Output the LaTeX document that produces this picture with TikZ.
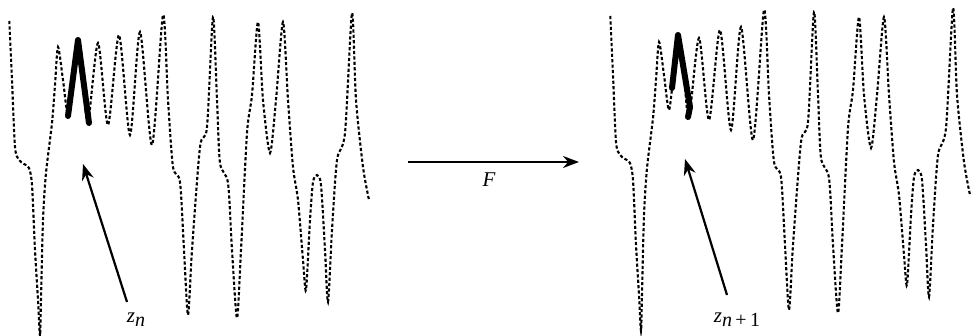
\documentclass[tikz,border=0pt]{standalone}
\usepackage{fontspec}
\setmainfont{Liberation Serif}
\usetikzlibrary{arrows.meta}
\tikzset{
  wave/.style={line width=2.1pt, dash pattern=on 3.2pt off 2.2pt},
  thickseg/.style={line width=6pt, line join=round, line cap=round},
  arr/.style={line width=2.2pt, -{Stealth[length=16pt,width=12pt]}},
  lbl/.style={inner sep=0pt, font=\fontsize{21}{23}\selectfont}
}
\newcommand\subsc[1]{\raisebox{-4pt}{\fontsize{20}{20}\selectfont #1}}
\newcommand\wavecurve{%
\draw[wave] plot[smooth,tension=0.45] coordinates {
(9.3,21) (12,80) (15,147) (19,160) (24,164) (29,168) (32,185) (35,250) (38,300) (40,336)
(41,300) (43,220) (46,173) (52,123) (55,85) (58,47) (63,80) (68,115) (73,75) (78,40) (83,80) (88,123)
(98,43) (108,125) (119,35) (130,135) (140,32) (152,145) (163,15) (168,100) (173,167) (180,182)
(184,250) (188,315) (192,250) (200,147) (207,127) (213,17) (217,100) (220,163) (228,183)
(232,250) (237,318) (241,250) (247,133) (252,95) (258,22) (263,100) (270,153) (276,100)
(283,22) (288,100) (293,167) (298,200) (303,260) (306,290) (310,220) (313,182) (317,175)
(321,185) (325,250) (328,302) (332,230) (337,160) (345,133) (352,13) (356,100) (363,167) (369,200)};}
\begin{document}
\begin{tikzpicture}[x=1pt,y=-1pt]
\useasboundingbox (0,0) rectangle (971,336);
% left graph
\wavecurve
\draw[thickseg] (68,116) -- (78,40) -- (89,123);
% right graph
\begin{scope}[shift={(601,-5)}]
\wavecurve
\end{scope}
\draw[thickseg] (672,88) -- (678,35) -- (690,107) -- (688,117);
% arrows and labels
\coordinate (a1s) at (127,302);
\coordinate (a1e) at (83,164);
\coordinate (a2s) at (727,295);
\coordinate (a2e) at (685,159);
\coordinate (fs) at (408,162);
\coordinate (fe) at (579,162);
\draw[arr] (a1s) -- (a1e);
\draw[arr] (a2s) -- (a2e);
\draw[arr] (fs) -- (fe);
\node[lbl] (zn) at (136,320) {\textit{z}\subsc{\textit{n}}};
\node[lbl] (zn1) at (737,320) {\textit{z}\subsc{\textit{n}\,+\,1}};
\node[lbl] (F) at (489,180) {\textit{F}};
\end{tikzpicture}
\end{document}
